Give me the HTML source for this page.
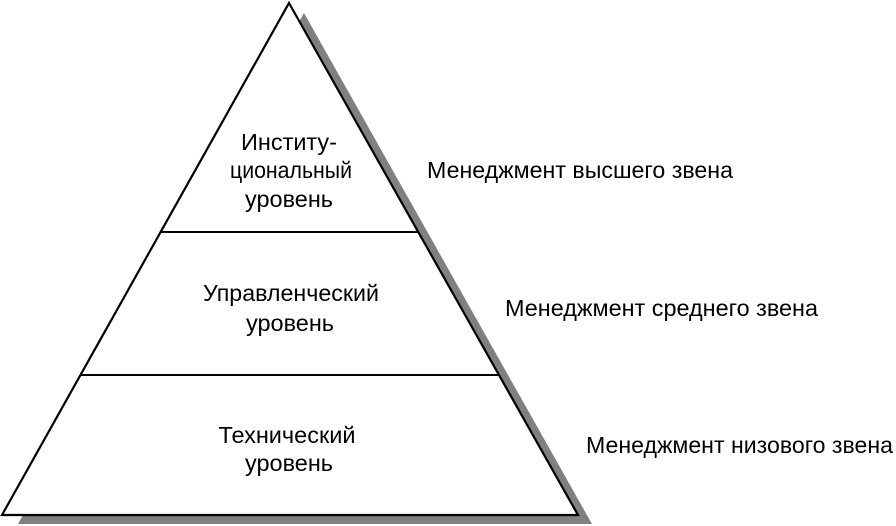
<!DOCTYPE html>
<html><head><meta charset="utf-8"><style>html,body{margin:0;padding:0;background:#fff}svg{display:block}</style></head>
<body>
<svg width="896" height="526" viewBox="0 0 896 526" xmlns="http://www.w3.org/2000/svg" font-family="Liberation Sans, sans-serif" font-size="23" fill="#000">
<polygon points="304,13 592,524 18,524" fill="#808080"/>
<polygon points="289,3 578,515 2,515" fill="#fff" stroke="#000" stroke-width="2.2" stroke-linejoin="miter"/>
<line x1="161" y1="232" x2="418" y2="232" stroke="#000" stroke-width="2"/>
<line x1="81" y1="375" x2="498" y2="375" stroke="#000" stroke-width="2"/>
<g text-anchor="middle">
<text x="289" y="150" textLength="96" lengthAdjust="spacingAndGlyphs">Институ-</text>
<text x="291" y="178" textLength="122" lengthAdjust="spacingAndGlyphs">циональный</text>
<text x="289" y="207" textLength="88" lengthAdjust="spacingAndGlyphs">уровень</text>
<text x="291" y="301" textLength="176" lengthAdjust="spacingAndGlyphs">Управленческий</text>
<text x="290" y="331" textLength="88" lengthAdjust="spacingAndGlyphs">уровень</text>
<text x="287" y="443" textLength="137" lengthAdjust="spacingAndGlyphs">Технический</text>
<text x="289" y="471" textLength="88" lengthAdjust="spacingAndGlyphs">уровень</text>
</g>
<text x="427" y="178" textLength="306" lengthAdjust="spacingAndGlyphs">Менеджмент высшего звена</text>
<text x="505" y="316" textLength="313" lengthAdjust="spacingAndGlyphs">Менеджмент среднего звена</text>
<text x="586" y="453" textLength="307" lengthAdjust="spacingAndGlyphs">Менеджмент низового звена</text>
</svg>
</body></html>
